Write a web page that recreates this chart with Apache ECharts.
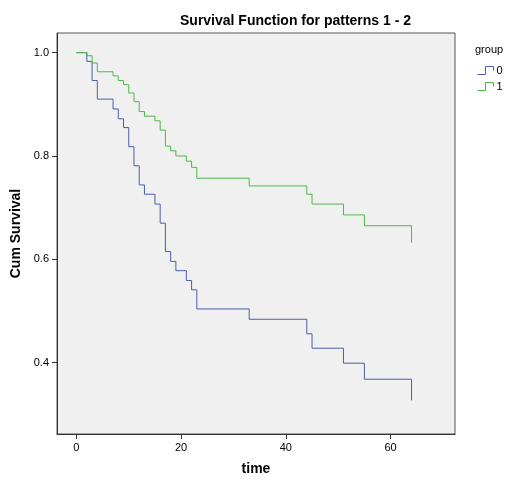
<!DOCTYPE html>
<html>
<head>
<meta charset="utf-8">
<script src="https://cdn.jsdelivr.net/npm/echarts@6/dist/echarts.min.js"></script>
<style>
  html, body { margin: 0; padding: 0; background: #fff; }
  #chart { width: 532px; height: 486px; }
</style>
</head>
<body>
<div id="chart"></div>
<script>
// 生存函数 (Kaplan-Meier) 两组对比
var times = [0, 2, 3, 4, 7, 8, 9, 10, 11, 12, 13, 15, 16, 17, 18, 19, 21, 22, 23, 33, 44, 45, 51, 55, 64];
var group0 = [1.0, 0.983, 0.946, 0.910, 0.891, 0.872, 0.855, 0.818, 0.781, 0.744, 0.726, 0.707, 0.670,
              0.615, 0.596, 0.578, 0.559, 0.541, 0.504, 0.484, 0.456, 0.428, 0.399, 0.368, 0.327];
var group1 = [1.0, 0.994, 0.980, 0.963, 0.955, 0.946, 0.938, 0.922, 0.905, 0.886, 0.877, 0.868, 0.850,
              0.819, 0.810, 0.800, 0.790, 0.778, 0.757, 0.742, 0.726, 0.707, 0.686, 0.665, 0.632];
var groupNames = ['0', '1'];
var xTicks = [0, 20, 40, 60];
var yTicks = [0.4, 0.6, 0.8, 1.0];

function pairs(ys) {
    return times.map(function (t, i) { return [t, ys[i]]; });
}

var font = 'Liberation Sans, Arial, sans-serif';
var stepIcon = 'path://M0,8 L8,8 L8,0 L16,0 L16,4';

var myChart = echarts.init(document.getElementById('chart'));
var option = {
    animation: false,
    backgroundColor: '#ffffff',
    title: [
        {
            text: 'Survival Function for patterns 1 - 2',
            left: 175,
            top: 9,
            textStyle: { fontFamily: font, fontSize: 14, fontWeight: 'bold', color: '#000' }
        },
        {
            text: 'group',
            left: 470,
            top: 39,
            textStyle: { fontFamily: font, fontSize: 11, fontWeight: 'normal', color: '#000' }
        }
    ],
    legend: {
        orient: 'vertical',
        left: 472,
        top: 60,
        itemWidth: 20,
        itemHeight: 8,
        itemGap: 5,
        icon: stepIcon,
        textStyle: { fontFamily: font, fontSize: 11, color: '#000', padding: [0, 0, 0, -4] },
        data: [
            { name: groupNames[0], itemStyle: { color: 'transparent', borderColor: '#4a5eaa', borderWidth: 1 } },
            { name: groupNames[1], itemStyle: { color: 'transparent', borderColor: '#4cb84c', borderWidth: 1 } }
        ]
    },
    grid: {
        left: 57,
        right: 77,
        top: 33,
        bottom: 52,
        show: true,
        backgroundColor: '#f0f0f0',
        borderColor: '#555',
        borderWidth: 1
    },
    xAxis: {
        type: 'value',
        min: -3.7,
        max: 72.3,
        name: 'time',
        nameLocation: 'middle',
        nameGap: 28,
        nameTextStyle: { fontFamily: font, fontSize: 14, fontWeight: 'bold', color: '#000' },
        splitLine: { show: false },
        axisLine: { show: true, onZero: false, lineStyle: { color: '#333', width: 1 } },
        axisTick: { show: true, length: 5, lineStyle: { color: '#333' }, customValues: xTicks },
        axisLabel: {
            margin: 8,
            fontFamily: font, fontSize: 11, color: '#000',
            customValues: xTicks
        }
    },
    yAxis: {
        type: 'value',
        min: 0.262,
        max: 1.038,
        name: 'Cum Survival',
        nameLocation: 'middle',
        nameGap: 32,
        nameTextStyle: { fontFamily: font, fontSize: 14, fontWeight: 'bold', color: '#000' },
        splitLine: { show: false },
        axisLine: { show: true, onZero: false, lineStyle: { color: '#333', width: 1 } },
        axisTick: { show: true, length: 5, lineStyle: { color: '#333' }, customValues: yTicks },
        axisLabel: {
            margin: 8,
            fontFamily: font, fontSize: 11, color: '#000',
            customValues: yTicks,
            formatter: function (v) { return v.toFixed(1); }
        }
    },
    series: [
        {
            name: groupNames[0],
            type: 'line',
            step: 'end',
            symbol: 'none',
            data: pairs(group0),
            lineStyle: { color: '#4a5eaa', width: 1 },
            itemStyle: { color: '#4a5eaa' }
        },
        {
            name: groupNames[1],
            type: 'line',
            step: 'end',
            symbol: 'none',
            data: pairs(group1),
            lineStyle: { color: '#4cb84c', width: 1 },
            itemStyle: { color: '#4cb84c' }
        }
    ]
};
myChart.setOption(option);
</script>
</body>
</html>
